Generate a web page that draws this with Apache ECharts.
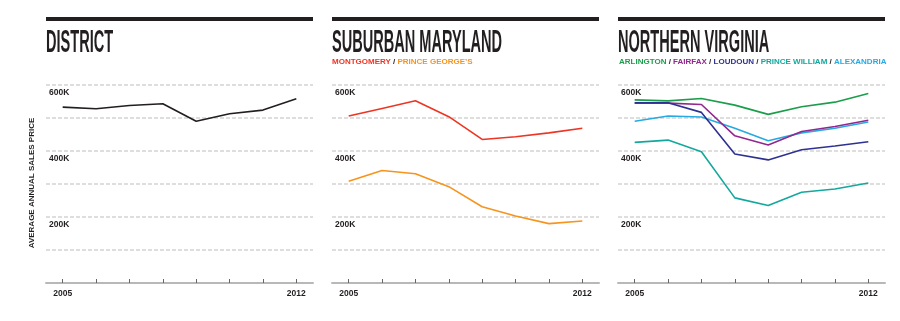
<!DOCTYPE html>
<html><head><meta charset="utf-8">
<script src="https://cdn.jsdelivr.net/npm/echarts@6/dist/echarts.min.js"></script>
<style>html,body{margin:0;padding:0;background:#fff}#c{width:900px;height:321px}</style>
</head><body><div id="c"></div>
<script>
var years = ['2005','2006','2007','2008','2009','2010','2011','2012'];
var yTickLabels = {600:'600K', 400:'400K', 200:'200K'};
var panelTitles = ['DISTRICT','SUBURBAN MARYLAND','NORTHERN VIRGINIA'];
var yAxisTitle = 'AVERAGE ANNUAL SALES PRICE';

var district = [533, 528, 538, 543, 490, 513, 524, 558];
var montgomery = [506, 529, 552, 504, 435, 443, 455, 469];
var princeGeorges = [308, 341, 331, 292, 231, 203, 180, 188];
var arlington = [555, 552, 559, 539, 511, 534, 548, 574];
var fairfax = [545, 545, 541, 446, 418, 459, 474, 493];
var loudoun = [546, 546, 517, 391, 373, 404, 415, 428];
var princeWilliam = [426, 433, 398, 258, 235, 275, 285, 303];
var alexandria = [490, 506, 503, 469, 431, 455, 469, 488];

var C = {
  dark:'#231f20', district:'#231f20', montgomery:'#ee3524', pg:'#f7941e',
  arlington:'#1b9e4b', fairfax:'#92278f', loudoun:'#2e3192', pw:'#13a89e', alexandria:'#27aae1'
};

var chart = echarts.init(document.getElementById('c'), null, {renderer:'canvas'});
var gridLefts = [46, 332, 618];
var gridW = 267, gridTop = 85, gridH = 198;

var grids = [], xAxes = [], yAxes = [];
gridLefts.forEach(function(l, i){
  grids.push({left:l, top:gridTop, width:gridW, height:gridH, containLabel:false});
  xAxes.push({
    type:'category', gridIndex:i, data:years, boundaryGap:true,
    axisLine:{show:true, lineStyle:{color:'#b8b8b8', width:2}},
    axisTick:{show:true, inside:true, length:4, alignWithLabel:true, lineStyle:{color:'#666', width:1}},
    axisLabel:{interval:0, margin:6, color:C.dark, fontFamily:'Liberation Sans', fontWeight:'bold', fontSize:8.5,
      formatter:function(v, idx){ return (idx===0 || idx===years.length-1) ? v : ''; }},
    splitLine:{show:false}
  });
  yAxes.push({
    type:'value', gridIndex:i, min:0, max:600, interval:100,
    axisLine:{show:false}, axisTick:{show:false},
    axisLabel:{inside:true, margin:3, verticalAlign:'top', padding:[3,0,0,0], color:C.dark,
      fontFamily:'Liberation Sans', fontWeight:'bold', fontSize:8.5,
      formatter:function(v){ return yTickLabels[v] || ''; }},
    splitLine:{show:true, lineStyle:{color:'#d4d4d4', width:1.5, type:[4,2]}}
  });
});

function line(name, data, color, gi){
  return {name:name, type:'line', xAxisIndex:gi, yAxisIndex:gi, data:data, symbol:'none',
    lineStyle:{color:color, width:1.6}, itemStyle:{color:color}, silent:true, animation:false};
}

var series = [
  line('District', district, C.district, 0),
  line('Montgomery', montgomery, C.montgomery, 1),
  line("Prince George's", princeGeorges, C.pg, 1),
  line('Arlington', arlington, C.arlington, 2),
  line('Alexandria', alexandria, C.alexandria, 2),
  line('Fairfax', fairfax, C.fairfax, 2),
  line('Loudoun', loudoun, C.loudoun, 2),
  line('Prince William', princeWilliam, C.pw, 2)
];

var graphics = [];
gridLefts.forEach(function(l, i){
  graphics.push({type:'rect', shape:{x:l, y:17, width:gridW, height:4}, style:{fill:C.dark}, silent:true});
  graphics.push({type:'text', x:l, y:59, scaleX:0.455, scaleY:1,
    style:{text:panelTitles[i], font:'bold 32px "Liberation Sans"', fill:C.dark, textAlign:'left', textVerticalAlign:'bottom'}, silent:true});
});
var subFont = 'bold 8px "Liberation Sans"';
function rs(color){ return {fill:color, font:subFont}; }
graphics.push({type:'text', x:332, y:62,
  style:{text:'{a|MONTGOMERY} {s|/} {b|PRINCE GEORGE\u2019S}', font:subFont, textAlign:'left', textVerticalAlign:'middle',
    rich:{a:rs(C.montgomery), s:rs(C.dark), b:rs(C.pg)}}, silent:true});
graphics.push({type:'text', x:619, y:62,
  style:{text:'{a|ARLINGTON} {s|/} {b|FAIRFAX} {s|/} {c|LOUDOUN} {s|/} {d|PRINCE WILLIAM} {s|/} {e|ALEXANDRIA}', font:subFont, textAlign:'left', textVerticalAlign:'middle',
    rich:{a:rs(C.arlington), s:rs(C.dark), b:rs(C.fairfax), c:rs(C.loudoun), d:rs(C.pw), e:rs(C.alexandria)}}, silent:true});
graphics.push({type:'text', x:32, y:183, rotation:Math.PI/2,
  style:{text:yAxisTitle, font:'bold 8px "Liberation Sans"', fill:C.dark, textAlign:'center', textVerticalAlign:'middle'}, silent:true});

chart.setOption({
  animation:false,
  backgroundColor:'#fff',
  grid:grids, xAxis:xAxes, yAxis:yAxes, series:series, graphic:graphics
});
</script></body></html>
